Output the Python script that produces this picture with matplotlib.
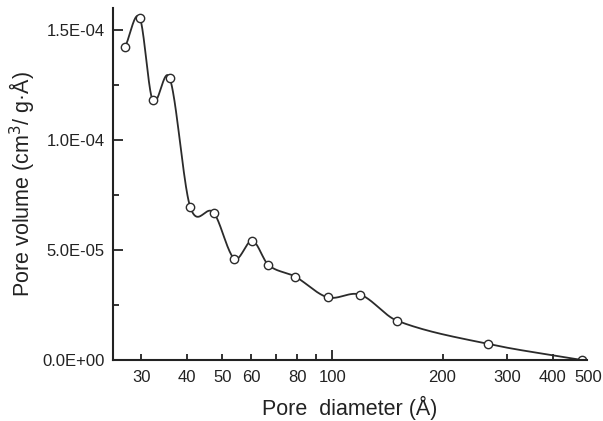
import numpy as np
import matplotlib.pyplot as plt
from matplotlib.ticker import FixedLocator, NullFormatter, FixedFormatter

plt.rcParams['font.family'] = ['Liberation Sans', 'DejaVu Sans']

# данные
diameter = [27.1, 29.7, 32.2, 35.9, 40.8, 47.3, 53.9, 60.4, 66.8, 79.1,
            97.0, 119.1, 150.0, 266.6, 481.0]
volume = [1.424e-4, 1.556e-4, 1.182e-4, 1.280e-4, 6.97e-5, 6.70e-5, 4.61e-5,
          5.42e-5, 4.32e-5, 3.79e-5, 2.85e-5, 2.97e-5, 1.79e-5, 7.3e-6, 0.0]

x_major = [100]
x_minor = [30, 40, 50, 60, 70, 80, 90, 200, 300, 400, 500]
x_labels = [30, 40, 50, 60, 80, 100, 200, 300, 400, 500]
y_major = [0, 5e-5, 1e-4, 1.5e-4]
y_major_labels = ['0.0E+00', '5.0E-05', '1.0E-04', '1.5E-04']
y_minor = [2.5e-5, 7.5e-5, 1.25e-4]

COLOR = "#2b2b2b"


# кубический эрмитов сплайн (cardinal) — гладкая линия через точки
def hermite_spline(x, y, pts_per_seg=40):
    x = np.asarray(x, float)
    y = np.asarray(y, float)
    n = len(x)
    m = np.zeros(n)
    m[0] = (y[1] - y[0]) / (x[1] - x[0])
    m[-1] = (y[-1] - y[-2]) / (x[-1] - x[-2])
    for i in range(1, n - 1):
        m[i] = (y[i + 1] - y[i - 1]) / (x[i + 1] - x[i - 1])
    xs_all, ys_all = [], []
    for i in range(n - 1):
        h = x[i + 1] - x[i]
        t = np.linspace(0, 1, pts_per_seg)
        h00 = 2 * t ** 3 - 3 * t ** 2 + 1
        h10 = t ** 3 - 2 * t ** 2 + t
        h01 = -2 * t ** 3 + 3 * t ** 2
        h11 = t ** 3 - t ** 2
        xs_all.append(x[i] + t * h)
        ys_all.append(h00 * y[i] + h10 * h * m[i] + h01 * y[i + 1] + h11 * h * m[i + 1])
    return np.concatenate(xs_all), np.concatenate(ys_all)


fig = plt.figure(figsize=(6.03, 4.21), dpi=100)
ax = fig.add_axes([0.1874, 0.1449, 0.9735 - 0.1874, 0.981 - 0.1449])

xs, ys = hermite_spline(np.log10(diameter), volume)
ax.plot(10 ** xs, ys, '-', color=COLOR, lw=1.3)
ax.plot(diameter, volume, 'o', ms=6, mfc='white', mec=COLOR, mew=1.0)

ax.set_xscale('log')
ax.set_xlim(25.1, 497)
ax.set_ylim(0, 1.6e-4)

ax.xaxis.set_major_locator(FixedLocator(x_major))
ax.xaxis.set_minor_locator(FixedLocator(x_minor))
ax.xaxis.set_major_formatter(NullFormatter())
ax.xaxis.set_minor_formatter(NullFormatter())
for v in x_labels:
    ax.text(v, -0.028, str(v), transform=ax.get_xaxis_transform(),
            ha='center', va='top', fontsize=12, color='#222222')

ax.yaxis.set_major_locator(FixedLocator(y_major))
ax.yaxis.set_major_formatter(FixedFormatter(y_major_labels))
ax.yaxis.set_minor_locator(FixedLocator(y_minor))

ax.tick_params(which='both', direction='in', colors='#222222', labelsize=12, width=1.3)
ax.tick_params(which='major', length=7)
ax.tick_params(which='minor', length=4)
ax.tick_params(axis='y', pad=6)

for s in ['top', 'right']:
    ax.spines[s].set_visible(False)
for s in ['left', 'bottom']:
    ax.spines[s].set_linewidth(1.5)
    ax.spines[s].set_color('#222222')

ax.set_xlabel('Pore  diameter (Å)', fontsize=15.5, labelpad=22, color='#222222')
ax.set_ylabel('Pore volume (cm$^3$/ g·Å)', fontsize=15.5, labelpad=4, color='#222222')

plt.savefig('out.png', dpi=100)
